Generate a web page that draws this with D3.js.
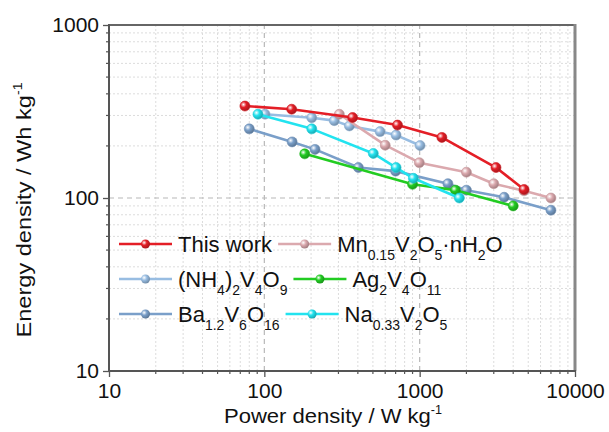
<!DOCTYPE html>
<html>
<head>
<meta charset="utf-8">
<script src="https://cdn.jsdelivr.net/npm/d3@7"></script>
<style>
  html, body { margin: 0; padding: 0; background: #fff; }
  svg { display: block; font-family: "Liberation Sans", Arial, sans-serif; }
</style>
</head>
<body>
<div id="chart"></div>
<script>
// Ragone plot: energy density vs power density (log-log)

const xTicks = [10, 100, 1000, 10000];
const yTicks = [10, 100, 1000];

// series values: [power W/kg, energy Wh/kg]
const thisWork = [[75, 340], [150, 326], [370, 292], [720, 264], [1390, 224], [3100, 150], [4700, 112]];
const mnVO = [[304, 305], [600, 202], [995, 160], [2000, 141], [3000, 121], [4700, 110], [7000, 100]];
const nh4VO = [[101, 305], [202, 291], [282, 280], [353, 261], [556, 242], [705, 231], [1006, 201]];
const agVO = [[182, 180], [900, 120], [1700, 111], [4000, 90]];
const baVO = [[80, 251], [151, 211], [212, 191], [403, 150], [700, 143], [1520, 121], [2000, 111], [3500, 101], [7000, 85]];
const naVO = [[91, 305], [202, 251], [503, 181], [705, 150], [911, 130], [1800, 100]];

const seriesNames = ['thisWork', 'mn', 'nh4', 'ag', 'ba', 'na'];
const seriesData = [thisWork, mnVO, nh4VO, agVO, baVO, naVO];
const seriesColors = ['#e41e26', '#dba9ae', '#98bde2', '#22cc22', '#7a9fc9', '#22e3ef'];

// legend labels as [text, 'sub' | ''] pieces
const legendLabels = [
  [['This work', '']],
  [['Mn', ''], ['0.15', 'sub'], ['V', ''], ['2', 'sub'], ['O', ''], ['5', 'sub'], ['·nH', ''], ['2', 'sub'], ['O', '']],
  [['(NH', ''], ['4', 'sub'], [')', ''], ['2', 'sub'], ['V', ''], ['4', 'sub'], ['O', ''], ['9', 'sub']],
  [['Ag', ''], ['2', 'sub'], ['V', ''], ['4', 'sub'], ['O', ''], ['11', 'sub']],
  [['Ba', ''], ['1.2', 'sub'], ['V', ''], ['6', 'sub'], ['O', ''], ['16', 'sub']],
  [['Na', ''], ['0.33', 'sub'], ['V', ''], ['2', 'sub'], ['O', ''], ['5', 'sub']]
];

const W = 609, H = 432;
const margin = { left: 109, right: 34, top: 25, bottom: 61 };
const x0 = margin.left, x1 = W - margin.right;
const y0 = H - margin.bottom, y1 = margin.top;

const svg = d3.select('#chart').append('svg')
  .attr('width', W)
  .attr('height', H);

const x = d3.scaleLog().domain([10, 10000]).range([x0, x1]);
const y = d3.scaleLog().domain([10, 1000]).range([y0, y1]);

// gradients for the shaded ball markers
const defs = svg.append('defs');
seriesColors.forEach((c, i) => {
  const g = defs.append('radialGradient')
    .attr('id', 'ball' + i)
    .attr('cx', '35%').attr('cy', '35%').attr('r', '65%');
  g.append('stop').attr('offset', '0%').attr('stop-color', '#fff');
  g.append('stop').attr('offset', '45%').attr('stop-color', c);
  g.append('stop').attr('offset', '100%').attr('stop-color', d3.color(c).darker(0.8));
});

// minor grid
const minorX = [], minorY = [];
[10, 100, 1000].forEach(d => { for (let k = 2; k <= 9; k++) minorX.push(d * k); });
[10, 100].forEach(d => { for (let k = 2; k <= 9; k++) minorY.push(d * k); });

const grid = svg.append('g');
grid.selectAll('.gx').data(minorX).enter().append('line')
  .attr('x1', d => x(d)).attr('x2', d => x(d))
  .attr('y1', y0).attr('y2', y1)
  .attr('stroke', '#dcdcdc').attr('stroke-width', 1)
  .attr('stroke-dasharray', '2,2');
grid.selectAll('.gy').data(minorY).enter().append('line')
  .attr('y1', d => y(d)).attr('y2', d => y(d))
  .attr('x1', x0).attr('x2', x1)
  .attr('stroke', '#dcdcdc').attr('stroke-width', 1)
  .attr('stroke-dasharray', '2,2');

// major grid (dashed)
grid.selectAll('.mx').data([100, 1000]).enter().append('line')
  .attr('x1', d => x(d)).attr('x2', d => x(d))
  .attr('y1', y0).attr('y2', y1)
  .attr('stroke', '#b8b8b8').attr('stroke-width', 1.2)
  .attr('stroke-dasharray', '5,4');
grid.selectAll('.my').data([100]).enter().append('line')
  .attr('y1', d => y(d)).attr('y2', d => y(d))
  .attr('x1', x0).attr('x2', x1)
  .attr('stroke', '#b8b8b8').attr('stroke-width', 1.2)
  .attr('stroke-dasharray', '5,4');

// axes
const xAxis = d3.axisBottom(x).tickValues(xTicks).tickFormat(d3.format('d')).tickSize(6).tickPadding(4);
const yAxis = d3.axisLeft(y).tickValues(yTicks).tickFormat(d3.format('d')).tickSize(6).tickPadding(4);

const gx = svg.append('g').attr('transform', `translate(0,${y0})`).call(xAxis);
const gy = svg.append('g').attr('transform', `translate(${x0},0)`).call(yAxis);

[gx, gy].forEach(g => {
  g.select('.domain').remove();
  g.selectAll('.tick line').attr('stroke', '#555').attr('stroke-width', 1.3);
  g.selectAll('.tick text').attr('fill', '#111').style('font-size', '21px');
});
gx.selectAll('.tick text').attr('dy', '0.8em');

// minor ticks
svg.append('g').selectAll('line').data(minorX).enter().append('line')
  .attr('x1', d => x(d)).attr('x2', d => x(d))
  .attr('y1', y0).attr('y2', y0 + 3)
  .attr('stroke', '#555').attr('stroke-width', 1.2);
svg.append('g').selectAll('line').data(minorY).enter().append('line')
  .attr('y1', d => y(d)).attr('y2', d => y(d))
  .attr('x1', x0).attr('x2', x0 - 3)
  .attr('stroke', '#555').attr('stroke-width', 1.2);

// frame
svg.append('line').attr('x1', x0).attr('x2', x1).attr('y1', y1).attr('y2', y1)
  .attr('stroke', '#666').attr('stroke-width', 2);
svg.append('line').attr('x1', x1).attr('x2', x1).attr('y1', y1 - 1).attr('y2', y0)
  .attr('stroke', '#888').attr('stroke-width', 3);
svg.append('line').attr('x1', x0).attr('x2', x1 + 1).attr('y1', y0).attr('y2', y0)
  .attr('stroke', '#555').attr('stroke-width', 2);
svg.append('line').attr('x1', x0).attr('x2', x0).attr('y1', y1 - 1).attr('y2', y0 + 1)
  .attr('stroke', '#555').attr('stroke-width', 2);

// axis titles
const xt = svg.append('text')
  .attr('transform', 'translate(333,423) scale(1.05,1)')
  .attr('text-anchor', 'middle')
  .style('font-size', '21px').attr('fill', '#111');
xt.append('tspan').text('Power density / W kg');
xt.append('tspan').attr('dy', -9).style('font-size', '12px').text('-1');

const yt = svg.append('text')
  .attr('transform', 'translate(31,210) rotate(-90) scale(1.18,1)')
  .attr('text-anchor', 'middle')
  .style('font-size', '20px').attr('fill', '#111');
yt.append('tspan').text('Energy density / Wh kg');
yt.append('tspan').attr('dy', -9).style('font-size', '12px').text('-1');

// lines and markers
const line = d3.line().x(d => x(d[0])).y(d => y(d[1]));
const order = [4, 2, 3, 5, 1, 0];
order.forEach(i => {
  const s = svg.append('g').attr('class', 'series-' + seriesNames[i]);
  s.append('path')
    .datum(seriesData[i])
    .attr('d', line)
    .attr('fill', 'none')
    .attr('stroke', seriesColors[i])
    .attr('stroke-width', 2.6)
    .attr('stroke-linejoin', 'round');
  s.selectAll('circle').data(seriesData[i]).enter().append('circle')
    .attr('cx', d => x(d[0]))
    .attr('cy', d => y(d[1]))
    .attr('r', 5)
    .attr('fill', `url(#ball${i})`)
    .attr('stroke', d3.color(seriesColors[i]).darker(0.3))
    .attr('stroke-width', 0.6);
});

// legend: three rows, two entries each
const legendRows = [244, 279, 314];
const legend = svg.append('g');

function legendEntry(i, lx, cy) {
  const g = legend.append('g');
  g.append('line')
    .attr('x1', lx).attr('x2', lx + 53)
    .attr('y1', cy).attr('y2', cy)
    .attr('stroke', seriesColors[i]).attr('stroke-width', 2.6);
  g.append('circle')
    .attr('cx', lx + 26.5).attr('cy', cy).attr('r', 4.5)
    .attr('fill', `url(#ball${i})`);
  const t = g.append('text')
    .attr('x', lx + 59).attr('y', cy + 8)
    .style('font-size', '22px').attr('fill', '#111');
  // subscripts drop 8px, following text returns to the baseline
  let shift = 0;
  legendLabels[i].forEach(([txt, kind]) => {
    const sp = t.append('tspan').text(txt);
    if (kind === 'sub') {
      sp.attr('dy', 8 - shift).style('font-size', '14px');
      shift = 8;
    } else {
      sp.attr('dy', -shift);
      shift = 0;
    }
  });
  return t.node().getComputedTextLength() + lx + 59;
}

legendRows.forEach((cy, r) => {
  const end = legendEntry(r * 2, 119, cy);
  legendEntry(r * 2 + 1, end + 6, cy);
});
</script>
</body>
</html>
